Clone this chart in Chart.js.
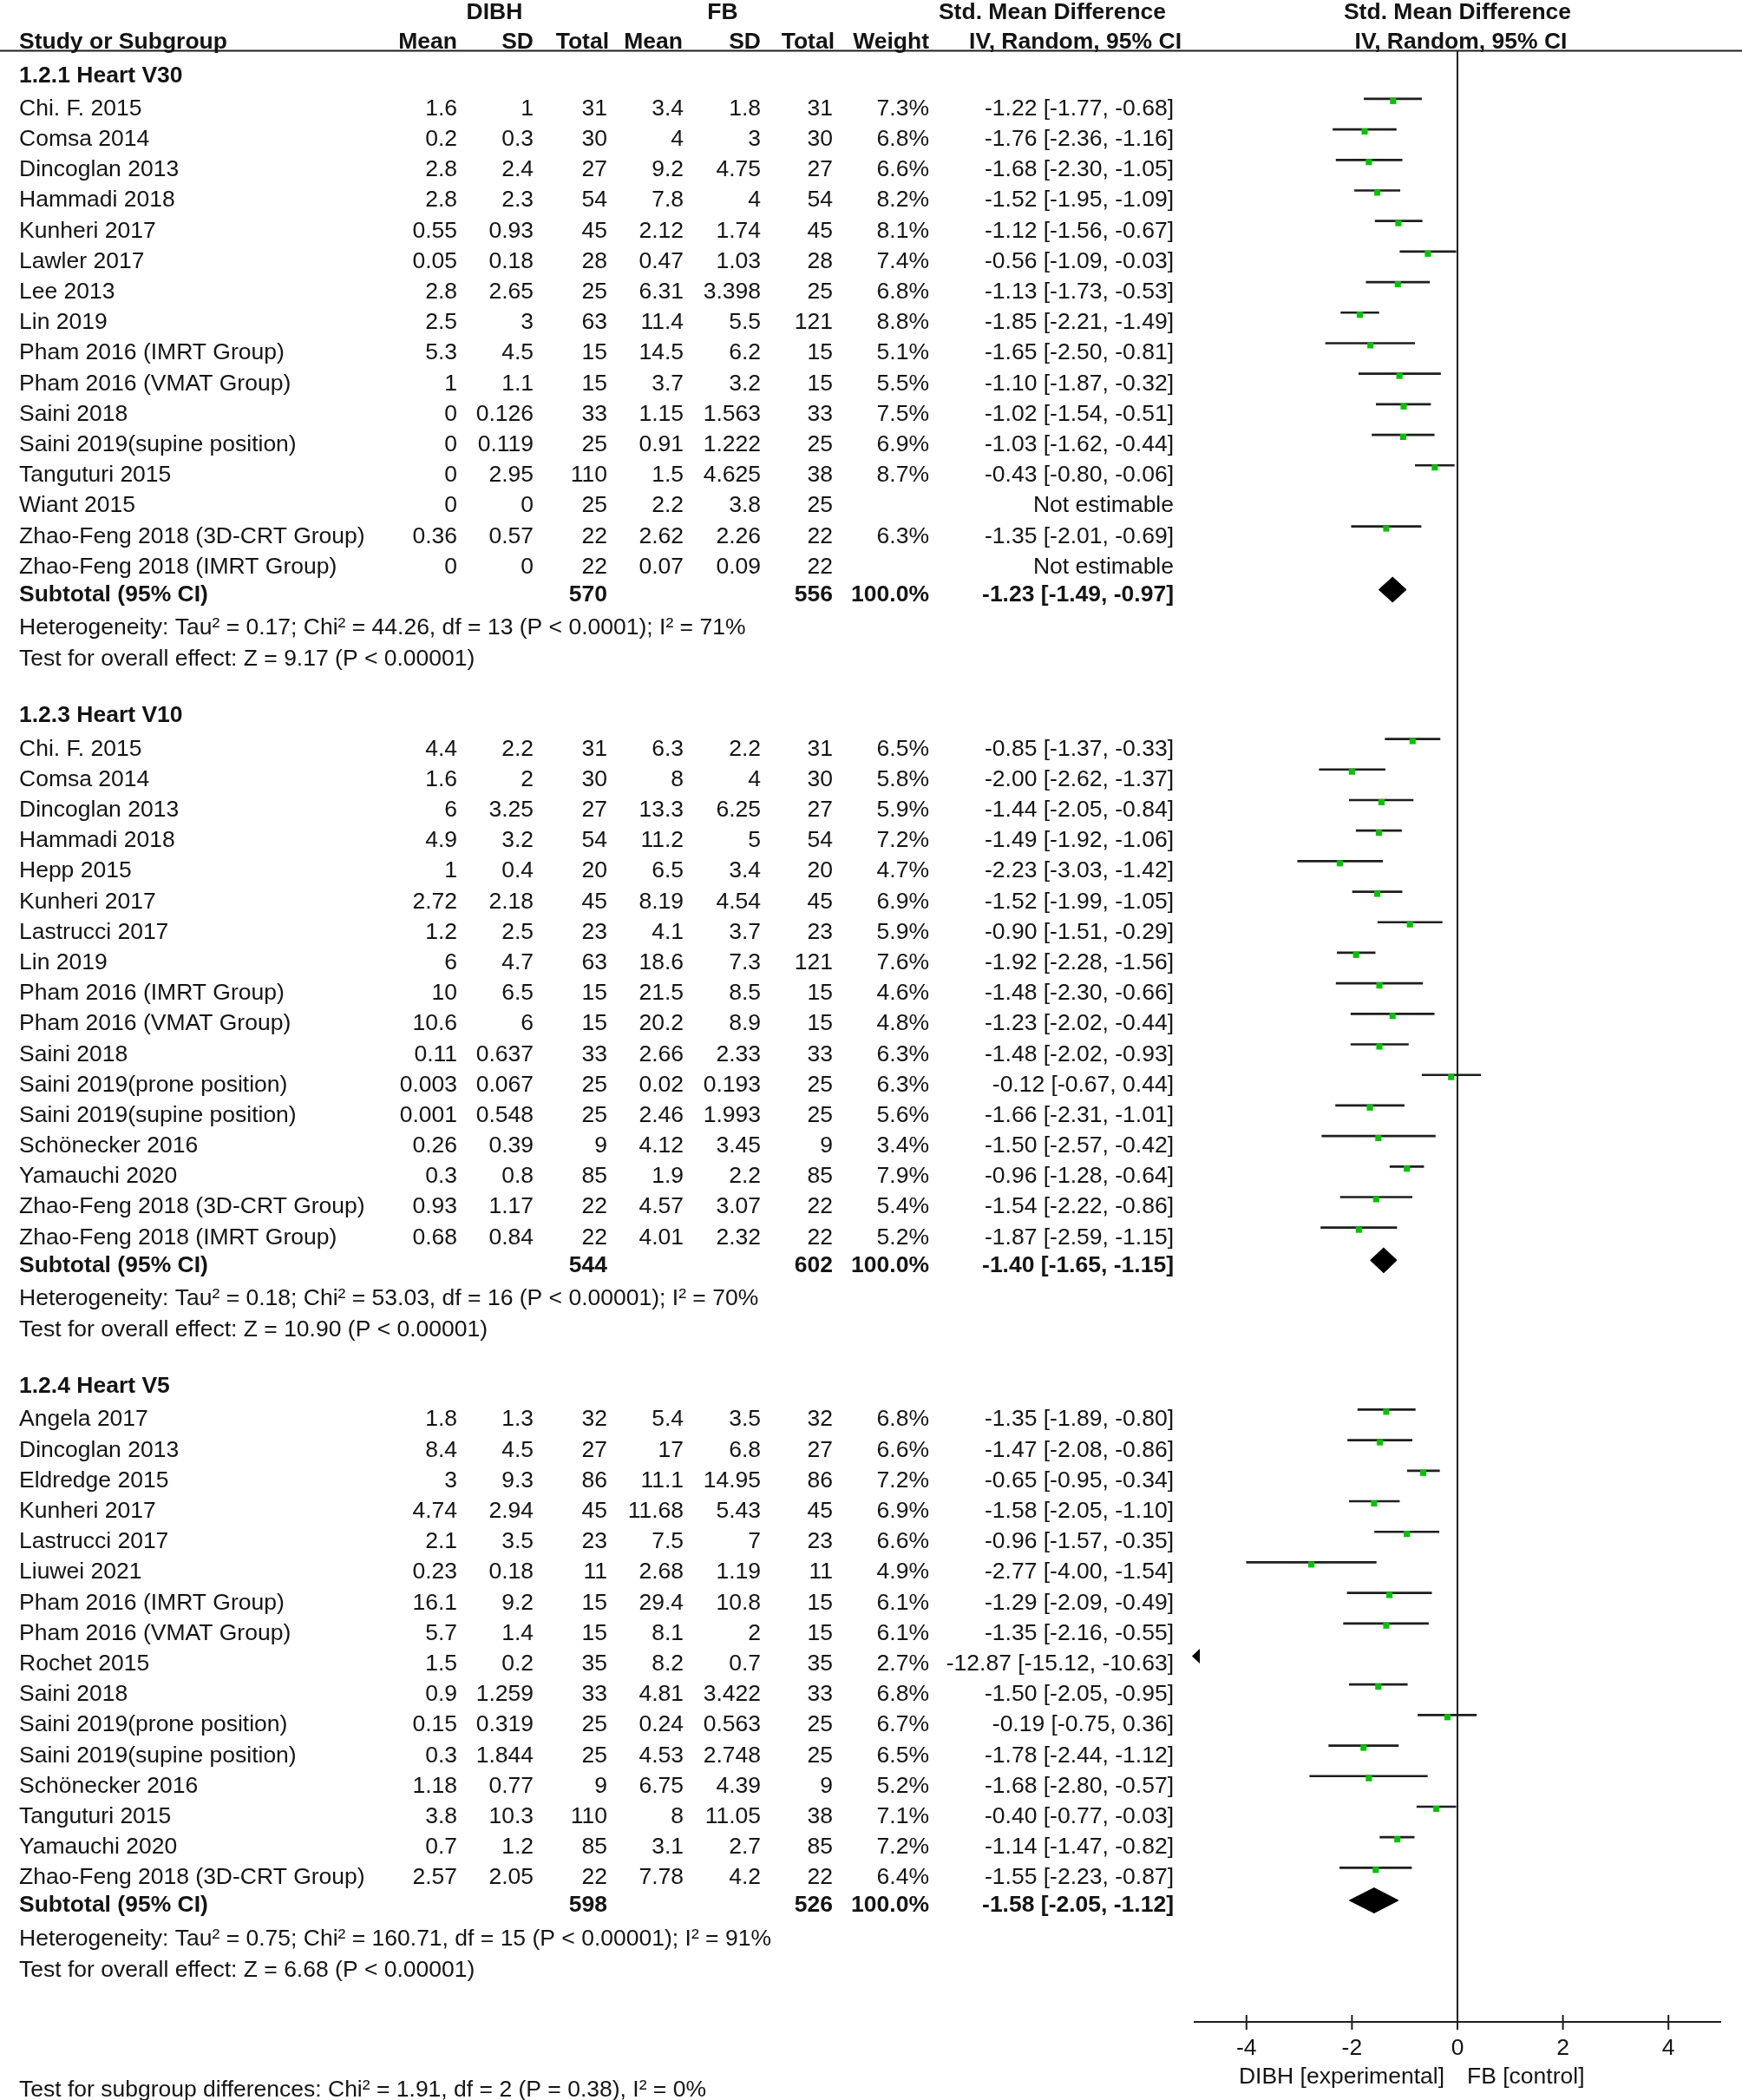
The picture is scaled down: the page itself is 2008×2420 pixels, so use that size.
<!DOCTYPE html>
<html><head><meta charset="utf-8">
<script src="https://cdn.jsdelivr.net/npm/chart.js@4.4.1/dist/chart.umd.min.js"></script>
<style>html,body{margin:0;padding:0;background:#fff;}canvas{display:block;}</style>
</head><body>
<canvas id="c" width="2008" height="2420"></canvas>
<script>
// ================= DATA =================
const v30Title = '1.2.1 Heart V30';
const v30Study = ['Chi. F. 2015','Comsa 2014','Dincoglan 2013','Hammadi 2018','Kunheri 2017','Lawler 2017','Lee 2013','Lin 2019','Pham 2016 (IMRT Group)','Pham 2016 (VMAT Group)','Saini 2018','Saini 2019(supine position)','Tanguturi 2015','Wiant 2015','Zhao-Feng 2018 (3D-CRT Group)','Zhao-Feng 2018 (IMRT Group)'];
const v30DibhMean = [1.6,0.2,2.8,2.8,0.55,0.05,2.8,2.5,5.3,1,0,0,0,0,0.36,0];
const v30DibhSD   = [1,0.3,2.4,2.3,0.93,0.18,2.65,3,4.5,1.1,0.126,0.119,2.95,0,0.57,0];
const v30DibhN    = [31,30,27,54,45,28,25,63,15,15,33,25,110,25,22,22];
const v30FbMean   = [3.4,4,9.2,7.8,2.12,0.47,6.31,11.4,14.5,3.7,1.15,0.91,1.5,2.2,2.62,0.07];
const v30FbSD     = [1.8,3,4.75,4,1.74,1.03,3.398,5.5,6.2,3.2,1.563,1.222,4.625,3.8,2.26,0.09];
const v30FbN      = [31,30,27,54,45,28,25,121,15,15,33,25,38,25,22,22];
const v30Weight   = [7.3,6.8,6.6,8.2,8.1,7.4,6.8,8.8,5.1,5.5,7.5,6.9,8.7,null,6.3,null];
const v30Smd      = [-1.22,-1.76,-1.68,-1.52,-1.12,-0.56,-1.13,-1.85,-1.65,-1.10,-1.02,-1.03,-0.43,null,-1.35,null];
const v30Lo       = [-1.77,-2.36,-2.30,-1.95,-1.56,-1.09,-1.73,-2.21,-2.50,-1.87,-1.54,-1.62,-0.80,null,-2.01,null];
const v30Hi       = [-0.68,-1.16,-1.05,-1.09,-0.67,-0.03,-0.53,-1.49,-0.81,-0.32,-0.51,-0.44,-0.06,null,-0.69,null];
const v30Totals   = [570, 556];
const v30Pooled   = [-1.23, -1.49, -0.97];
const v30Het  = 'Heterogeneity: Tau² = 0.17; Chi² = 44.26, df = 13 (P < 0.0001); I² = 71%';
const v30Test = 'Test for overall effect: Z = 9.17 (P < 0.00001)';

const v10Title = '1.2.3 Heart V10';
const v10Study = ['Chi. F. 2015','Comsa 2014','Dincoglan 2013','Hammadi 2018','Hepp 2015','Kunheri 2017','Lastrucci 2017','Lin 2019','Pham 2016 (IMRT Group)','Pham 2016 (VMAT Group)','Saini 2018','Saini 2019(prone position)','Saini 2019(supine position)','Schönecker 2016','Yamauchi 2020','Zhao-Feng 2018 (3D-CRT Group)','Zhao-Feng 2018 (IMRT Group)'];
const v10DibhMean = [4.4,1.6,6,4.9,1,2.72,1.2,6,10,10.6,0.11,0.003,0.001,0.26,0.3,0.93,0.68];
const v10DibhSD   = [2.2,2,3.25,3.2,0.4,2.18,2.5,4.7,6.5,6,0.637,0.067,0.548,0.39,0.8,1.17,0.84];
const v10DibhN    = [31,30,27,54,20,45,23,63,15,15,33,25,25,9,85,22,22];
const v10FbMean   = [6.3,8,13.3,11.2,6.5,8.19,4.1,18.6,21.5,20.2,2.66,0.02,2.46,4.12,1.9,4.57,4.01];
const v10FbSD     = [2.2,4,6.25,5,3.4,4.54,3.7,7.3,8.5,8.9,2.33,0.193,1.993,3.45,2.2,3.07,2.32];
const v10FbN      = [31,30,27,54,20,45,23,121,15,15,33,25,25,9,85,22,22];
const v10Weight   = [6.5,5.8,5.9,7.2,4.7,6.9,5.9,7.6,4.6,4.8,6.3,6.3,5.6,3.4,7.9,5.4,5.2];
const v10Smd      = [-0.85,-2.00,-1.44,-1.49,-2.23,-1.52,-0.90,-1.92,-1.48,-1.23,-1.48,-0.12,-1.66,-1.50,-0.96,-1.54,-1.87];
const v10Lo       = [-1.37,-2.62,-2.05,-1.92,-3.03,-1.99,-1.51,-2.28,-2.30,-2.02,-2.02,-0.67,-2.31,-2.57,-1.28,-2.22,-2.59];
const v10Hi       = [-0.33,-1.37,-0.84,-1.06,-1.42,-1.05,-0.29,-1.56,-0.66,-0.44,-0.93,0.44,-1.01,-0.42,-0.64,-0.86,-1.15];
const v10Totals   = [544, 602];
const v10Pooled   = [-1.40, -1.65, -1.15];
const v10Het  = 'Heterogeneity: Tau² = 0.18; Chi² = 53.03, df = 16 (P < 0.00001); I² = 70%';
const v10Test = 'Test for overall effect: Z = 10.90 (P < 0.00001)';

const v5Title = '1.2.4 Heart V5';
const v5Study = ['Angela 2017','Dincoglan 2013','Eldredge 2015','Kunheri 2017','Lastrucci 2017','Liuwei 2021','Pham 2016 (IMRT Group)','Pham 2016 (VMAT Group)','Rochet 2015','Saini 2018','Saini 2019(prone position)','Saini 2019(supine position)','Schönecker 2016','Tanguturi 2015','Yamauchi 2020','Zhao-Feng 2018 (3D-CRT Group)'];
const v5DibhMean = [1.8,8.4,3,4.74,2.1,0.23,16.1,5.7,1.5,0.9,0.15,0.3,1.18,3.8,0.7,2.57];
const v5DibhSD   = [1.3,4.5,9.3,2.94,3.5,0.18,9.2,1.4,0.2,1.259,0.319,1.844,0.77,10.3,1.2,2.05];
const v5DibhN    = [32,27,86,45,23,11,15,15,35,33,25,25,9,110,85,22];
const v5FbMean   = [5.4,17,11.1,11.68,7.5,2.68,29.4,8.1,8.2,4.81,0.24,4.53,6.75,8,3.1,7.78];
const v5FbSD     = [3.5,6.8,14.95,5.43,7,1.19,10.8,2,0.7,3.422,0.563,2.748,4.39,11.05,2.7,4.2];
const v5FbN      = [32,27,86,45,23,11,15,15,35,33,25,25,9,38,85,22];
const v5Weight   = [6.8,6.6,7.2,6.9,6.6,4.9,6.1,6.1,2.7,6.8,6.7,6.5,5.2,7.1,7.2,6.4];
const v5Smd      = [-1.35,-1.47,-0.65,-1.58,-0.96,-2.77,-1.29,-1.35,-12.87,-1.50,-0.19,-1.78,-1.68,-0.40,-1.14,-1.55];
const v5Lo       = [-1.89,-2.08,-0.95,-2.05,-1.57,-4.00,-2.09,-2.16,-15.12,-2.05,-0.75,-2.44,-2.80,-0.77,-1.47,-2.23];
const v5Hi       = [-0.80,-0.86,-0.34,-1.10,-0.35,-1.54,-0.49,-0.55,-10.63,-0.95,0.36,-1.12,-0.57,-0.03,-0.82,-0.87];
const v5Totals   = [598, 526];
const v5Pooled   = [-1.58, -2.05, -1.12];
const v5Het  = 'Heterogeneity: Tau² = 0.75; Chi² = 160.71, df = 15 (P < 0.00001); I² = 91%';
const v5Test = 'Test for overall effect: Z = 6.68 (P < 0.00001)';

const subgroupText = 'Test for subgroup differences: Chi² = 1.91, df = 2 (P = 0.38), I² = 0%';
const xTicks = [-4, -2, 0, 2, 4];
const xTickLabels = ['-4', '-2', '0', '2', '4'];
const headerTop = ['DIBH', 'FB', 'Std. Mean Difference', 'Std. Mean Difference'];
const headerCols = ['Study or Subgroup', 'Mean', 'SD', 'Total', 'Mean', 'SD', 'Total', 'Weight', 'IV, Random, 95% CI', 'IV, Random, 95% CI'];
const axisLeftLabel = 'DIBH [experimental]';
const axisRightLabel = 'FB [control]';

// ================= LAYOUT / STYLE =================
const W = 2008, H = 2420;
const ROW_PX = 35.34, FIRST_ROW_PX = 117.5;
const X_MIN = -5, X_MAX = 5;
const PLOT_LEFT = 1376, PLOT_RIGHT = 1984;
const FONT_PX = 26.5, FAMILY = '"Liberation Sans", Arial, Helvetica, sans-serif';
const CAP_SHIFT = 0.358 * FONT_PX;
const TEXT_COLOR = '#141414', LINE_COLOR = '#1e1e1e', SQUARE_COLOR = '#00c400';
const COL_RIGHT = [527, 615, 700, 788, 877, 960, 1071, 1353];
const HEAD_RIGHT = [527, 615, 702, 787, 877, 962, 1071, 1362];
const STUDY_X = 22;
const HEAD1_Y = 12.5, HEAD2_Y = 46.5, RULE_Y = 58.5;
const AXIS_Y = 2330, TICKLAB_Y = 2359, AXTITLE_Y = 2392, SUBGROUP_Y = 2407;
const CI_OFF = -0.27, SQ_OFF = -0.2, DIA_OFF = -0.11, DIA_HALF = 0.41;

const sections = [
  [v30Title, v30Study, v30DibhMean, v30DibhSD, v30DibhN, v30FbMean, v30FbSD, v30FbN, v30Weight, v30Smd, v30Lo, v30Hi, v30Totals, v30Pooled, v30Het, v30Test],
  [v10Title, v10Study, v10DibhMean, v10DibhSD, v10DibhN, v10FbMean, v10FbSD, v10FbN, v10Weight, v10Smd, v10Lo, v10Hi, v10Totals, v10Pooled, v10Het, v10Test],
  [v5Title, v5Study, v5DibhMean, v5DibhSD, v5DibhN, v5FbMean, v5FbSD, v5FbN, v5Weight, v5Smd, v5Lo, v5Hi, v5Totals, v5Pooled, v5Het, v5Test]
];

// compute row positions (in row units)
const layout = [];
let cur = -1.05;
for (const s of sections) {
  const L = { title: cur, rows: [] };
  let r = cur + 1.09;
  for (let i = 0; i < s[1].length; i++) { L.rows.push(r); r += 1; }
  L.sub = L.rows[L.rows.length - 1] + 0.91;
  L.het = L.sub + 1.09;
  L.test = L.het + 1.02;
  cur = L.test + 1.85;
  layout.push(L);
}

// datasets
const ciData = [], sqData = [], arrows = [];
sections.forEach((s, si) => {
  const smd = s[9], lo = s[10], hi = s[11];
  smd.forEach((v, i) => {
    if (v === null) return;
    const y = layout[si].rows[i];
    if (hi[i] < X_MIN) { arrows.push({ y: y + SQ_OFF }); return; }
    ciData.push({ x: [lo[i], hi[i]], y: y + CI_OFF });
    sqData.push({ x: v, y: y + SQ_OFF });
  });
});
const diamondSets = sections.map((s, si) => {
  const p = s[13], c = layout[si].sub + DIA_OFF;
  return {
    type: 'scatter', showLine: true, fill: 'shape', tension: 0,
    data: [{x: p[1], y: c}, {x: p[0], y: c - DIA_HALF}, {x: p[2], y: c}, {x: p[0], y: c + DIA_HALF}, {x: p[1], y: c}],
    borderColor: '#000', backgroundColor: '#000', borderWidth: 1, pointRadius: 0, order: 0
  };
});

function txt(ctx, s, x, cy, align, bold) {
  ctx.font = (bold ? 'bold ' : '') + FONT_PX + 'px ' + FAMILY;
  ctx.textAlign = align;
  ctx.textBaseline = 'alphabetic';
  ctx.fillText(s, x, cy + CAP_SHIFT);
}

const tablePlugin = {
  id: 'forestTable',
  beforeDatasetsDraw(chart) {
    const ctx = chart.ctx, xs = chart.scales.x;
    ctx.save();
    ctx.strokeStyle = LINE_COLOR; ctx.lineWidth = 2;
    ctx.beginPath(); ctx.moveTo(0, RULE_Y); ctx.lineTo(W, RULE_Y); ctx.stroke();
    const x0 = xs.getPixelForValue(0);
    ctx.beginPath(); ctx.moveTo(x0, RULE_Y); ctx.lineTo(x0, AXIS_Y); ctx.stroke();
    ctx.beginPath(); ctx.moveTo(xs.getPixelForValue(X_MIN), AXIS_Y); ctx.lineTo(xs.getPixelForValue(X_MAX), AXIS_Y); ctx.stroke();
    ctx.beginPath();
    for (const t of xTicks) { const px = xs.getPixelForValue(t); ctx.moveTo(px, AXIS_Y - 8); ctx.lineTo(px, AXIS_Y + 9); }
    ctx.stroke();
    ctx.restore();
  },
  afterDraw(chart) {
    const ctx = chart.ctx, xs = chart.scales.x, ys = chart.scales.y;
    const Y = v => ys.getPixelForValue(v);
    ctx.save();
    ctx.fillStyle = TEXT_COLOR;
    // header
    txt(ctx, headerTop[0], 570, HEAD1_Y, 'center', true);
    txt(ctx, headerTop[1], 833, HEAD1_Y, 'center', true);
    txt(ctx, headerTop[2], 1213, HEAD1_Y, 'center', true);
    txt(ctx, headerTop[3], xs.getPixelForValue(0), HEAD1_Y, 'center', true);
    txt(ctx, headerCols[0], STUDY_X, HEAD2_Y, 'left', true);
    for (let k = 0; k < 8; k++) txt(ctx, headerCols[k + 1], HEAD_RIGHT[k], HEAD2_Y, 'right', true);
    txt(ctx, headerCols[9], xs.getPixelForValue(0) + 4, HEAD2_Y, 'center', true);
    // sections
    sections.forEach((s, si) => {
      const L = layout[si];
      txt(ctx, s[0], STUDY_X, Y(L.title), 'left', true);
      s[1].forEach((name, i) => {
        const cy = Y(L.rows[i]);
        txt(ctx, name, STUDY_X, cy, 'left', false);
        const vals = [s[2][i], s[3][i], s[4][i], s[5][i], s[6][i], s[7][i]].map(String);
        vals.forEach((v, k) => txt(ctx, v, COL_RIGHT[k], cy, 'right', false));
        if (s[8][i] !== null) txt(ctx, s[8][i].toFixed(1) + '%', COL_RIGHT[6], cy, 'right', false);
        if (s[9][i] === null) txt(ctx, 'Not estimable', COL_RIGHT[7], cy, 'right', false);
        else txt(ctx, s[9][i].toFixed(2) + ' [' + s[10][i].toFixed(2) + ', ' + s[11][i].toFixed(2) + ']', COL_RIGHT[7], cy, 'right', false);
      });
      const sy = Y(L.sub);
      txt(ctx, 'Subtotal (95% CI)', STUDY_X, sy, 'left', true);
      txt(ctx, String(s[12][0]), COL_RIGHT[2], sy, 'right', true);
      txt(ctx, String(s[12][1]), COL_RIGHT[5], sy, 'right', true);
      txt(ctx, '100.0%', COL_RIGHT[6], sy, 'right', true);
      const p = s[13];
      txt(ctx, p[0].toFixed(2) + ' [' + p[1].toFixed(2) + ', ' + p[2].toFixed(2) + ']', COL_RIGHT[7], sy, 'right', true);
      txt(ctx, s[14], STUDY_X, Y(L.het), 'left', false);
      txt(ctx, s[15], STUDY_X, Y(L.test), 'left', false);
    });
    // off-scale arrows
    ctx.fillStyle = '#000';
    for (const a of arrows) {
      const tip = xs.getPixelForValue(X_MIN) - 2, cy = Y(a.y);
      ctx.beginPath(); ctx.moveTo(tip, cy); ctx.lineTo(tip + 9, cy - 8.5); ctx.lineTo(tip + 9, cy + 8.5); ctx.closePath(); ctx.fill();
    }
    ctx.fillStyle = TEXT_COLOR;
    // axis labels
    xTicks.forEach((t, k) => txt(ctx, xTickLabels[k], xs.getPixelForValue(t), TICKLAB_Y, 'center', false));
    txt(ctx, axisLeftLabel, xs.getPixelForValue(0) - 15, AXTITLE_Y, 'right', false);
    txt(ctx, axisRightLabel, xs.getPixelForValue(0) + 11, AXTITLE_Y, 'left', false);
    txt(ctx, subgroupText, STUDY_X, SUBGROUP_Y, 'left', false);
    ctx.restore();
  }
};

const yMin = -FIRST_ROW_PX / ROW_PX, yMax = (H - FIRST_ROW_PX) / ROW_PX;

new Chart(document.getElementById('c'), {
  type: 'scatter',
  data: {
    datasets: [
      { type: 'bar', data: ciData, indexAxis: 'y', barThickness: 2, backgroundColor: LINE_COLOR, borderWidth: 0, order: 2 },
      { type: 'scatter', data: sqData, pointStyle: 'rect', pointRadius: 5, pointHoverRadius: 5, backgroundColor: SQUARE_COLOR, borderWidth: 0, order: 1 },
      ...diamondSets
    ]
  },
  options: {
    responsive: false, animation: false, devicePixelRatio: 1,
    layout: { padding: { left: PLOT_LEFT, right: W - PLOT_RIGHT, top: 0, bottom: 0 } },
    plugins: { legend: { display: false }, tooltip: { enabled: false } },
    scales: {
      x: { type: 'linear', min: X_MIN, max: X_MAX, display: false, offset: false },
      y: { type: 'linear', min: yMin, max: yMax, reverse: true, display: false, offset: false }
    }
  },
  plugins: [tablePlugin]
});
</script>
</body></html>
